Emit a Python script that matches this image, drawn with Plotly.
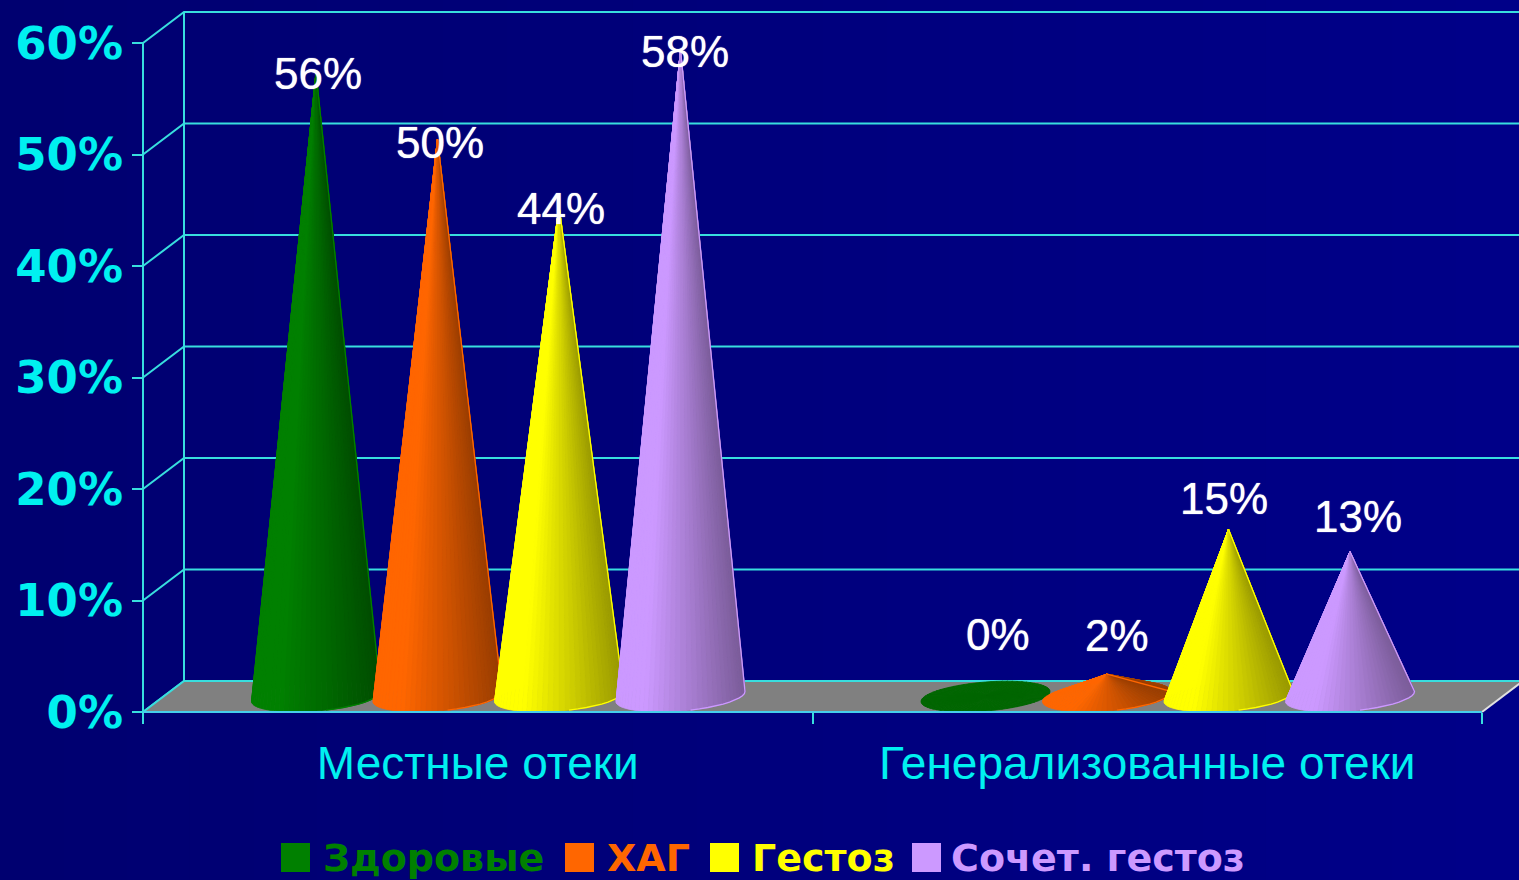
import math
import plotly.graph_objects as go

# Chart data
categories = ["Местные отеки", "Генерализованные отеки"]
series_names = ["Здоровые", "ХАГ", "Гестоз", "Сочет. гестоз"]
zdorovye = [56, 0]
hag = [50, 2]
gestoz = [44, 15]
sochet = [58, 13]
series_values = [zdorovye, hag, gestoz, sochet]
y_ticks = [0, 10, 20, 30, 40, 50, 60]

# Series colours
series_rgb = [(0, 128, 0), (255, 102, 0), (255, 255, 0), (204, 153, 255)]

# Page geometry: the axes sit inside a slightly larger plot area so that
# lines along them are not cut by the plot clip
PAGE_W, PAGE_H = 1519, 880
MARGIN_L, MARGIN_B = 100, 100
AXIS_X, AXIS_Y = 143, 712  # page position of the (0, 0) corner
PX_PER_CAT = 669.5
PX_PER_PCT = 11.15
plot_w, plot_h = PAGE_W - MARGIN_L, PAGE_H - MARGIN_B
X_MIN = -(AXIS_X - MARGIN_L) / PX_PER_CAT
X_MAX = (PAGE_W - AXIS_X) / PX_PER_CAT
Y_MIN = -(plot_h - AXIS_Y) / PX_PER_PCT
Y_MAX = AXIS_Y / PX_PER_PCT

# Oblique depth of the chart box, in axis units
DEPTH_X = 41 / PX_PER_CAT
DEPTH_Y = 31 / PX_PER_PCT

# Cone geometry, in axis units
SPACING = 121.5 / PX_PER_CAT
RADIUS_X = 64.5 / PX_PER_CAT
RADIUS_Y = 14.5 / PX_PER_PCT
TILT = 5 / PX_PER_PCT
SEGMENTS = 72

LINE = "rgb(56,222,222)"
TEXT_CYAN = "rgb(0,240,240)"

# Per-label nudges (pixels) for the value captions, by series then category
label_dx = [[2, 12], [2, 10], [2, -5], [4, 8]]
label_dy = [[-1, 62], [-3, 39], [-3, 31], [-2, 35]]

fig = go.Figure()


def add_line(xs, ys, color=LINE, width=2):
    fig.add_trace(go.Scatter(x=xs, y=ys, mode="lines", line=dict(color=color, width=width),
                             hoverinfo="skip", showlegend=False))


def shade(rgb, f):
    return "rgb(%d,%d,%d)" % tuple(round(c * f) for c in rgb)


def ellipse_point(cx, cy, t):
    return cx + RADIUS_X * math.cos(t), cy + RADIUS_Y * math.sin(t) + TILT * math.cos(t)


def add_cone(cx, value, rgb):
    """Fan of shaded strips from the apex to the tilted base ellipse."""
    cy = DEPTH_Y / 2
    apex = (cx, cy + value)
    strips = []
    for i in range(SEGMENTS):
        t0 = 2 * math.pi * i / SEGMENTS
        t1 = 2 * math.pi * (i + 1) / SEGMENTS
        strips.append((t0, t1, (t0 + t1) / 2))
    strips.sort(key=lambda s: -math.sin(s[2]))
    for t0, t1, tm in strips:
        u = math.cos(tm)
        f = 0.8 if value == 0 else (1.0 if u < -0.55 else 1.0 - 0.40 * (u + 0.55) / 1.55)
        p0, p1 = ellipse_point(cx, cy, t0), ellipse_point(cx, cy, t1)
        col = shade(rgb, f)
        fig.add_trace(go.Scatter(x=[apex[0], p0[0], p1[0], apex[0]],
                                 y=[apex[1], p0[1], p1[1], apex[1]],
                                 mode="lines", fill="toself", fillcolor=col,
                                 line=dict(color=col, width=0.8),
                                 hoverinfo="skip", showlegend=False))
    if value > 0:
        # Lit rim along the right-hand edge and the near part of the base
        ts = [-(math.pi * 0.45) * k / 10 for k in range(11)]
        pts = [apex] + [ellipse_point(cx, cy, t) for t in ts]
        add_line([p[0] for p in pts], [p[1] for p in pts], color=shade(rgb, 1.0), width=1.3)


# Back wall gridlines and side-wall diagonals
for v in y_ticks:
    add_line([0, DEPTH_X, X_MAX + 0.1], [v, v + DEPTH_Y, v + DEPTH_Y])
add_line([DEPTH_X, DEPTH_X], [DEPTH_Y, y_ticks[-1] + DEPTH_Y])
add_line([0, 0], [0, y_ticks[-1]])

# Floor
fig.add_trace(go.Scatter(x=[0, DEPTH_X, 2 + DEPTH_X, 2, 0],
                         y=[0, DEPTH_Y, DEPTH_Y, 0, 0],
                         mode="lines", fill="toself", fillcolor="rgb(128,128,128)",
                         line=dict(width=0), hoverinfo="skip", showlegend=False))
add_line([DEPTH_X, X_MAX + 0.1], [DEPTH_Y, DEPTH_Y])
add_line([0, DEPTH_X], [0, DEPTH_Y])
add_line([2, 2 + DEPTH_X], [0, DEPTH_Y], color="rgb(225,225,225)")

# Cones
centers = [0.5 + DEPTH_X / 2, 1.5 + DEPTH_X / 2]
n = len(series_values)
for c, center in enumerate(centers):
    for s, vals in enumerate(series_values):
        add_cone(center + (s - (n - 1) / 2) * SPACING, vals[c], series_rgb[s])

add_line([0, 2], [0, 0], color="rgb(70,205,235)")

# Value captions
annotations = []
for s, vals in enumerate(series_values):
    for c, center in enumerate(centers):
        annotations.append(dict(x=center + (s - (n - 1) / 2) * SPACING, y=DEPTH_Y / 2 + vals[c],
                                xref="x", yref="y", text=f"{vals[c]}%", showarrow=False,
                                xshift=label_dx[s][c], yshift=label_dy[s][c],
                                xanchor="center", yanchor="middle",
                                font=dict(family="Liberation Sans", size=44, color="white",
                                          shadow="0 0 1px white")))

# Bottom key: swatches and coloured names
key_swatch_x = [281, 565, 710, 912]
key_text_x = [321, 605, 750, 949]
shapes = []


def px(x):
    return (x - MARGIN_L) / plot_w


def py(y):
    return (plot_h - y) / plot_h


for s, name in enumerate(series_names):
    col = "rgb(%d,%d,%d)" % series_rgb[s]
    shapes.append(dict(type="rect", xref="paper", yref="paper", layer="above",
                       x0=px(key_swatch_x[s]), x1=px(key_swatch_x[s] + 29),
                       y0=py(843), y1=py(872), fillcolor=col, line=dict(width=0)))
    annotations.append(dict(x=px(key_text_x[s]), y=py(858), xref="paper", yref="paper",
                            text=name, showarrow=False, xanchor="left", yanchor="middle",
                            font=dict(family="DejaVu Sans", size=38, color=col, weight="bold")))

# Slow left-to-right drift in the navy background
BANDS = 24
for i in range(BANDS):
    b = round(112 + 24 * i / (BANDS - 1))
    shapes.append(dict(type="rect", xref="paper", yref="paper", layer="below",
                       x0=px(PAGE_W * i / BANDS), x1=px(PAGE_W * (i + 1) / BANDS + 1),
                       y0=py(PAGE_H), y1=py(0), fillcolor=f"rgb(0,0,{b})", line=dict(width=0)))

fig.update_layout(
    width=PAGE_W, height=PAGE_H,
    margin=dict(l=MARGIN_L, r=0, t=0, b=MARGIN_B, pad=0, autoexpand=False),
    paper_bgcolor="rgb(0,0,122)", plot_bgcolor="rgba(0,0,0,0)",
    showlegend=False, hovermode=False,
    annotations=annotations, shapes=shapes,
    xaxis=dict(range=[X_MIN, X_MAX], showgrid=False, zeroline=False, showline=False,
               anchor="free", position=(plot_h - AXIS_Y) / plot_h,
               tickmode="array", tickvals=[0.5, 1.5], ticktext=categories, ticks="",
               ticklabelstandoff=20,
               tickfont=dict(family="Liberation Sans", size=46, color=TEXT_CYAN),
               minor=dict(tickmode="array", tickvals=[0, 1, 2], ticks="outside",
                          ticklen=11, tickwidth=2, tickcolor=LINE)),
    yaxis=dict(range=[Y_MIN, Y_MAX], showgrid=False, zeroline=False, showline=False,
               anchor="free", position=(AXIS_X - MARGIN_L) / plot_w,
               tickmode="array", tickvals=y_ticks, ticktext=[f"{v}%" for v in y_ticks],
               ticks="outside", ticklen=11, tickwidth=2, tickcolor=LINE,
               tickfont=dict(family="DejaVu Sans", size=45, color=TEXT_CYAN, weight="bold")),
)

fig.write_html("out.html", config=dict(displayModeBar=False))
